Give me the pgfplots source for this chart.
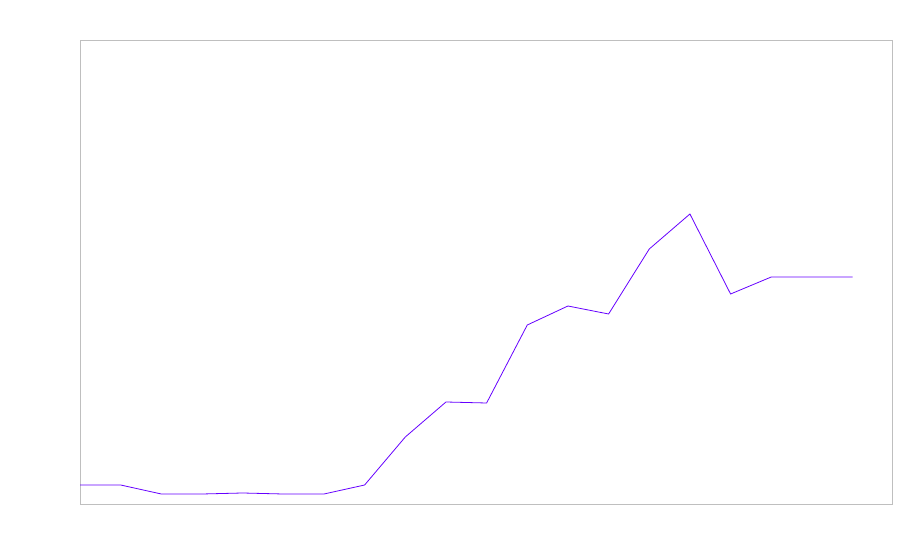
\documentclass[border=0pt]{standalone}
\usepackage{pgfplots}
\pgfplotsset{compat=1.18}
\definecolor{linec}{RGB}{102,0,255}
\definecolor{framec}{RGB}{191,191,191}
\begin{document}
\begin{tikzpicture}
\useasboundingbox[fill=white] (0,0) rectangle (900bp,560bp);
\begin{axis}[
  at={(80bp,56bp)}, anchor=south west,
  scale only axis, width=812bp, height=464bp,
  xmin=0, xmax=19.97, ymin=0, ymax=464,
  xtick=\empty, ytick=\empty,
  axis line style={framec, line width=0.8pt},
  clip=false,
]
\addplot[linec, line width=0.8pt] coordinates {
(0,19) (1,19) (2,10) (3,10) (4,11) (5,10) (6,10) (7,19) (8,67) (9,102)
(10,101) (11,179) (12,198) (13,190) (14,255) (15,290) (16,210) (17,227) (18,227) (19,227)
};
\end{axis}
\end{tikzpicture}
\end{document}
